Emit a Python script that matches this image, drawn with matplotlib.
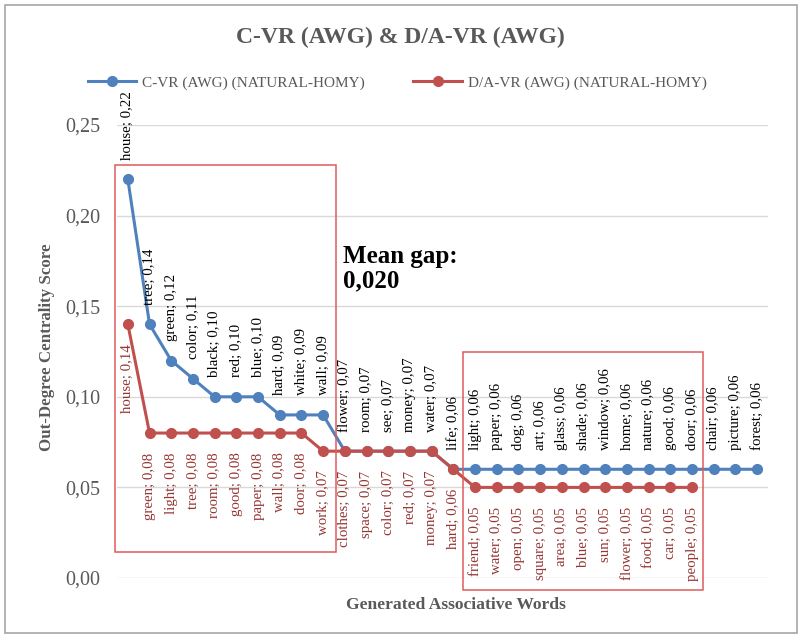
import matplotlib
matplotlib.use("Agg")
import matplotlib.pyplot as plt
from matplotlib.patches import Rectangle
from matplotlib.ticker import FuncFormatter, MultipleLocator

plt.rcParams['font.family'] = ['Liberation Serif', 'DejaVu Serif']

title = "C-VR (AWG) & D/A-VR (AWG)"
series_names = ["C-VR (AWG) (NATURAL-HOMY)", "D/A-VR (AWG) (NATURAL-HOMY)"]

cvr_words = ["house", "tree", "green", "color", "black", "red", "blue", "hard", "white", "wall",
             "flower", "room", "see", "money", "water", "life", "light", "paper", "dog", "art",
             "glass", "shade", "window", "home", "nature", "good", "door", "chair", "picture", "forest"]
cvr_values = [0.22, 0.14, 0.12, 0.11, 0.10, 0.10, 0.10, 0.09, 0.09, 0.09,
              0.07, 0.07, 0.07, 0.07, 0.07, 0.06, 0.06, 0.06, 0.06, 0.06,
              0.06, 0.06, 0.06, 0.06, 0.06, 0.06, 0.06, 0.06, 0.06, 0.06]

davr_words = ["house", "green", "light", "tree", "room", "good", "paper", "wall", "door", "work",
              "clothes", "space", "color", "red", "money", "hard", "friend", "water", "open", "square",
              "area", "blue", "sun", "flower", "food", "car", "people"]
davr_values = [0.14, 0.08, 0.08, 0.08, 0.08, 0.08, 0.08, 0.08, 0.08, 0.07,
               0.07, 0.07, 0.07, 0.07, 0.07, 0.06, 0.05, 0.05, 0.05, 0.05,
               0.05, 0.05, 0.05, 0.05, 0.05, 0.05, 0.05]

mean_gap = "0,020"

BLUE = '#4F81BD'
RED = '#C0504D'
RED_TXT = '#943634'
GREY = '#595959'

fig = plt.figure(figsize=(8, 6.38), dpi=100)
ax = fig.add_axes([117/800, (638-578)/638, 651/800, 453/638])

xb = list(range(1, len(cvr_values) + 1))
xr = list(range(1, len(davr_values) + 1))

ax.plot(xb, cvr_values, color=BLUE, lw=2.2, marker='o', ms=7, label=series_names[0], zorder=3)
ax.plot(xr, davr_values, color=RED, lw=2.2, marker='o', ms=7, label=series_names[1], zorder=4)

def fmt(v):
    return f"{v:.2f}".replace('.', ',')

for x, w, v in zip(xb, cvr_words, cvr_values):
    ax.annotate(f"{w}; {fmt(v)}", (x, v), xytext=(0, 14), textcoords='offset points',
                rotation=90, ha='center', va='bottom', fontsize=10.7, color='black', zorder=5)
for x, w, v in zip(xr, davr_words, davr_values):
    ax.annotate(f"{w}; {fmt(v)}", (x, v), xytext=(0, -14), textcoords='offset points',
                rotation=90, ha='center', va='top', fontsize=10.7, color=RED_TXT, zorder=5)

ax.set_xlim(0.5, 30.5)
ax.set_ylim(0, 0.25)
ax.yaxis.set_major_locator(MultipleLocator(0.05))
ax.yaxis.set_major_formatter(FuncFormatter(lambda v, p: fmt(v)))
ax.set_xticks([])
ax.tick_params(axis='y', length=0, pad=12, labelsize=14.5, labelcolor=GREY)
ax.grid(axis='y', color='#D9D9D9', lw=1.0)
ax.set_axisbelow(True)
for s in ax.spines.values():
    s.set_visible(False)

ax.set_ylabel("Out-Degree Centrality Score", fontsize=12.2, fontweight='bold', color=GREY)
ax.yaxis.set_label_coords((47-117)/651, (578-347)/453)
ax.yaxis.label.set_verticalalignment('center')
ax.set_xlabel("Generated Associative Words", fontsize=12.6, fontweight='bold', color=GREY)
ax.xaxis.set_label_coords((456-117)/651, -(605-578)/453)
ax.xaxis.label.set_verticalalignment('center')

# highlight boxes
ax.add_patch(Rectangle((0.41, 0.0144), 10.59-0.41, 0.2279-0.0144, fill=False,
                       ec='#E05A5A', lw=1.1, clip_on=False, zorder=6))
ax.add_patch(Rectangle((16.46, -0.0066), 27.49-16.46, 0.1246+0.0066, fill=False,
                       ec='#E05A5A', lw=1.1, clip_on=False, zorder=6))

fig.text(343/800, 1-245/638, f"Mean gap:\n{mean_gap}", fontsize=18, fontweight='bold',
         ha='left', va='top', linespacing=1.05, color='black')

fig.text(0.5, 1-37/638, title, fontsize=17, fontweight='bold', color=GREY, ha='center', va='center')

leg = fig.legend(loc='center', bbox_to_anchor=(397/800, 1-83/638), ncol=2, frameon=False,
                 fontsize=11, handlelength=3.2, handletextpad=0.35, columnspacing=3.2)
for t in leg.get_texts():
    t.set_color(GREY)

fig.add_artist(Rectangle((5/800, 5/638), 792/800, 628/638, transform=fig.transFigure,
                         fill=False, ec='#A6A6A6', lw=1.2))

fig.savefig("out.png", dpi=100)
